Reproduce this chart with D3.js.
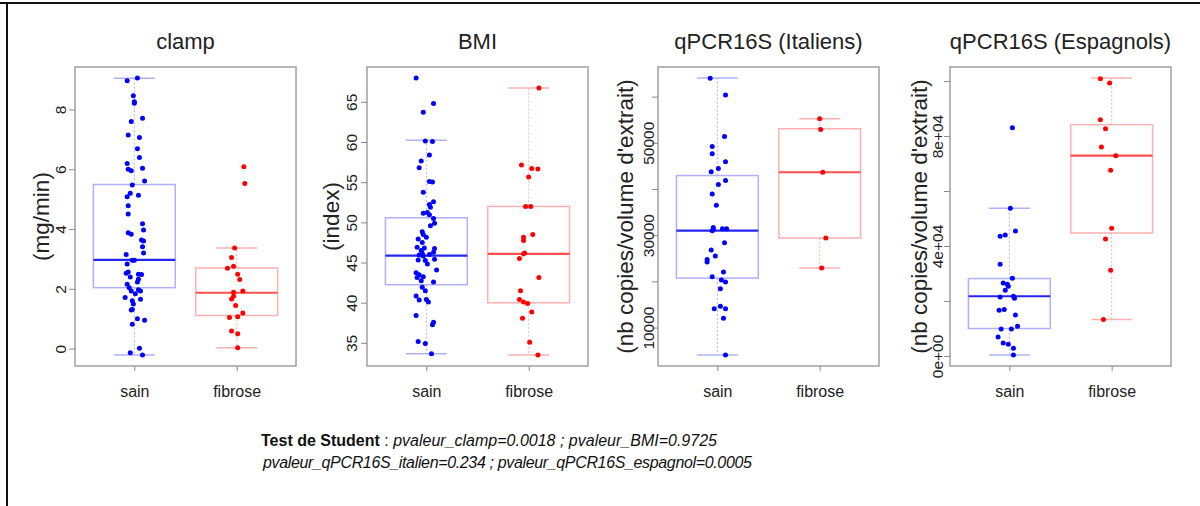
<!DOCTYPE html>
<html>
<head>
<meta charset="utf-8">
<script src="https://cdn.jsdelivr.net/npm/d3@7"></script>
<style>
  html, body { margin: 0; padding: 0; background: #fff; }
  svg { display: block; }
</style>
</head>
<body>
<svg id="chart" width="1200" height="506"></svg>
<script>
// ---------------- DATA ----------------
const groups = ["sain", "fibrose"];
const panelTitles = ["clamp", "BMI", "qPCR16S (Italiens)", "qPCR16S (Espagnols)"];
const yAxisLabels = ["(mg/min)", "(index)", "(nb copies/volume d'extrait)", "(nb copies/volume d'extrait)"];

const clampTicks = [0, 2, 4, 6, 8];
const clampTickLabels = ["0", "2", "4", "6", "8"];
const bmiTicks = [35, 40, 45, 50, 55, 60, 65];
const bmiTickLabels = ["35", "40", "45", "50", "55", "60", "65"];
const italTicks = [10000, 20000, 30000, 40000, 50000, 60000];
const italTickLabels = ["10000", "", "30000", "", "50000", ""];
const espTicks = [0, 20000, 40000, 60000, 80000, 100000];
const espTickLabels = ["0e+00", "", "4e+04", "", "8e+04", ""];

// box statistics: [lower whisker, Q1, median, Q3, upper whisker]
const clampBoxSain = [-0.21, 2.04, 2.97, 5.49, 9.04];
const clampBoxFibrose = [0.03, 1.11, 1.87, 2.70, 3.37];
const bmiBoxSain = [33.66, 42.24, 45.86, 50.57, 60.22];
const bmiBoxFibrose = [33.50, 39.99, 46.07, 51.98, 66.71];
const italBoxSain = [4080, 20720, 31000, 42910, 64010];
const italBoxFibrose = [22880, 29390, 43620, 53040, 55200];
const espBoxSain = [360, 9960, 21710, 28150, 53710];
const espBoxFibrose = [13240, 44730, 72870, 84150, 101100];

// individual points (values) and their horizontal jitter (category units)
const clampSain = [8.96, 9.05, 8.46, 8.26, 8.21, 7.60, 7.71, 7.15, 7.06, 6.69, 6.39, 6.19, 6.00, 5.95, 6.03, 5.61, 5.47, 5.20, 5.08, 5.13, 4.78, 4.50, 4.18, 3.97, 3.88, 3.83, 3.63, 3.60, 3.41, 3.20, 3.15, 2.96, 2.96, 2.83, 2.52, 2.56, 2.49, 2.48, 2.40, 2.32, 2.23, 2.15, 2.04, 1.97, 1.93, 1.93, 1.71, 1.84, 1.60, 1.65, 1.49, 1.29, 1.31, 1.00, 0.95, 0.82, -0.14, 0.01, -0.21];
const clampSainJit = [-0.07, 0.03, -0.01, 0.00, 0.00, -0.03, 0.08, -0.06, 0.05, 0.03, 0.05, -0.07, -0.06, -0.03, 0.08, 0.10, -0.02, -0.04, -0.07, 0.04, -0.06, -0.06, 0.08, 0.09, -0.06, -0.03, 0.07, 0.09, 0.08, 0.09, -0.08, -0.02, 0.00, -0.07, -0.08, -0.06, 0.04, 0.07, -0.04, 0.04, 0.03, -0.07, -0.05, 0.04, 0.06, -0.03, -0.09, 0.01, -0.02, 0.06, -0.01, -0.03, -0.02, 0.03, 0.10, -0.02, -0.04, 0.05, 0.08];
const clampFibrose = [6.08, 5.52, 3.37, 3.05, 2.69, 2.76, 2.49, 2.31, 1.93, 1.89, 1.75, 1.66, 1.44, 1.19, 1.07, 1.04, 0.59, 0.50, 0.03];
const clampFibroseJit = [0.07, 0.08, -0.02, -0.05, -0.09, -0.03, 0.01, 0.03, 0.06, -0.03, -0.03, -0.05, -0.01, 0.06, 0.01, -0.07, -0.05, 0.01, 0.01];

const bmiSain = [67.96, 64.80, 63.71, 60.13, 60.06, 58.38, 57.63, 56.80, 55.10, 55.01, 53.76, 52.56, 52.23, 51.89, 51.14, 51.23, 50.94, 50.48, 49.89, 49.57, 48.82, 48.48, 48.15, 47.48, 47.94, 46.90, 46.49, 46.82, 46.74, 46.28, 45.95, 45.99, 45.82, 46.15, 45.32, 45.40, 45.24, 44.07, 44.82, 43.74, 43.49, 43.15, 43.24, 42.74, 42.58, 41.91, 41.49, 40.83, 40.33, 40.40, 40.08, 38.41, 37.58, 37.25, 35.16, 34.91, 33.66];
const bmiSainJit = [-0.10, 0.07, -0.03, -0.01, 0.06, 0.03, -0.05, -0.07, 0.03, 0.06, -0.03, 0.07, 0.03, 0.04, -0.03, 0.01, 0.03, 0.07, 0.08, 0.04, -0.04, -0.03, 0.00, -0.04, -0.08, -0.09, -0.05, -0.02, 0.08, 0.07, -0.07, 0.03, -0.03, -0.04, -0.08, 0.08, -0.01, 0.10, 0.01, -0.10, -0.07, -0.09, -0.03, -0.05, 0.07, -0.04, -0.01, -0.10, -0.07, 0.00, 0.02, -0.10, 0.07, 0.06, -0.08, -0.01, 0.05];
const bmiFibrose = [66.71, 57.13, 56.72, 56.64, 55.64, 51.98, 51.98, 48.48, 48.15, 47.73, 46.20, 46.07, 45.49, 43.15, 41.49, 40.41, 40.08, 39.91, 38.83, 38.08, 35.09, 33.50];
const bmiFibroseJit = [0.10, -0.07, 0.03, 0.09, 0.00, -0.03, 0.02, 0.04, -0.05, -0.05, -0.04, -0.05, -0.09, 0.10, -0.08, -0.09, -0.05, -0.01, 0.03, -0.06, 0.01, 0.09];

const italSain = [63950, 60330, 51370, 49200, 47610, 45880, 44430, 43710, 41820, 40950, 38940, 36460, 31690, 31260, 30980, 31410, 31410, 28370, 26790, 25480, 24750, 24190, 22020, 21000, 20280, 19850, 18390, 14640, 14060, 14060, 12040, 4080];
const italSainJit = [-0.07, 0.08, 0.07, -0.05, -0.05, 0.08, 0.01, -0.06, 0.08, 0.01, -0.05, -0.01, -0.04, -0.04, -0.05, 0.05, 0.09, 0.07, -0.06, -0.02, -0.10, -0.10, 0.06, -0.05, 0.04, 0.08, 0.03, 0.03, -0.03, 0.08, 0.06, 0.08];
const italFibrose = [55200, 52890, 43620, 29390, 22880];
const italFibroseJit = [0.00, 0.01, 0.03, 0.06, 0.02];

const espSain = [83050, 53710, 45450, 43530, 44000, 33350, 28250, 26550, 26070, 25350, 23890, 21460, 21710, 20980, 16620, 16870, 14910, 9820, 9820, 10800, 6910, 4730, 4250, 2800, 360];
const espSainJit = [0.03, 0.01, 0.06, -0.09, -0.04, -0.09, 0.03, -0.06, -0.02, -0.01, -0.04, -0.09, 0.04, 0.05, -0.10, -0.05, 0.06, -0.08, 0.02, 0.08, -0.11, -0.06, -0.01, 0.04, 0.04];
const espFibrose = [100870, 99270, 85960, 82690, 76000, 72870, 67530, 46440, 42550, 31160, 13240];
const espFibroseJit = [-0.11, -0.02, -0.11, -0.06, -0.10, 0.04, -0.01, 0.00, -0.06, -0.01, -0.08];

// ---------------- PANEL TABLE built from the arrays ----------------
const panels = [
  { title: panelTitles[0], ylab: yAxisLabels[0], ticks: clampTicks, tickLabels: clampTickLabels,
    boxes: [clampBoxSain, clampBoxFibrose], pts: [[clampSain, clampSainJit], [clampFibrose, clampFibroseJit]] },
  { title: panelTitles[1], ylab: yAxisLabels[1], ticks: bmiTicks, tickLabels: bmiTickLabels,
    boxes: [bmiBoxSain, bmiBoxFibrose], pts: [[bmiSain, bmiSainJit], [bmiFibrose, bmiFibroseJit]] },
  { title: panelTitles[2], ylab: yAxisLabels[2], ticks: italTicks, tickLabels: italTickLabels,
    boxes: [italBoxSain, italBoxFibrose], pts: [[italSain, italSainJit], [italFibrose, italFibroseJit]] },
  { title: panelTitles[3], ylab: yAxisLabels[3], ticks: espTicks, tickLabels: espTickLabels,
    boxes: [espBoxSain, espBoxFibrose], pts: [[espSain, espSainJit], [espFibrose, espFibroseJit]] }
];

// ---------------- LAYOUT / STYLE ----------------
const plotLefts = [75, 367, 658, 950];
const plotW = 221, plotTop = 67, plotBottom = 366;
const tickLabelGap = [9, 10, 4, 7];
const yLabGap = [26, 28, 25, 23];
const fontFam = "'Liberation Sans', Arial, sans-serif";
const colors = {
  point: ["#0000ff", "#ff0000"],
  box: ["#b0b0ff", "#ffb0b0"],
  median: ["#2626f0", "#ff5050"]
};

const svg = d3.select("#chart");
svg.append("rect").attr("width", 1200).attr("height", 506).attr("fill", "#fff");
// outer frame (top and left edges)
svg.append("line").attr("x1", 0).attr("x2", 1200).attr("y1", 3).attr("y2", 3)
  .attr("stroke", "#111").attr("stroke-width", 2);
svg.append("line").attr("x1", 7).attr("x2", 7).attr("y1", 3).attr("y2", 506)
  .attr("stroke", "#111").attr("stroke-width", 2);

panels.forEach((p, i) => {
  const left = plotLefts[i];
  const x = d3.scaleLinear().domain([0.42, 2.58]).range([left, left + plotW]);
  const all = p.pts[0][0].concat(p.pts[1][0], p.boxes[0], p.boxes[1]);
  const [lo, hi] = d3.extent(all);
  const pad = (hi - lo) * 0.04;
  const y = d3.scaleLinear().domain([lo - pad, hi + pad]).range([plotBottom, plotTop]);
  const g = svg.append("g");

  // boxes
  p.boxes.forEach((b, k) => {
    const cx = x(k + 1);
    const bx0 = x(k + 1 - 0.4), bx1 = x(k + 1 + 0.4);
    const cx0 = x(k + 1 - 0.2), cx1 = x(k + 1 + 0.2);
    const bg = g.append("g");
    // whiskers (dotted)
    bg.append("line").attr("x1", cx).attr("x2", cx).attr("y1", y(b[3])).attr("y2", y(b[4]))
      .attr("stroke", colors.box[k]).attr("stroke-width", 1).attr("stroke-dasharray", "2,2");
    bg.append("line").attr("x1", cx).attr("x2", cx).attr("y1", y(b[1])).attr("y2", y(b[0]))
      .attr("stroke", colors.box[k]).attr("stroke-width", 1).attr("stroke-dasharray", "2,2");
    // caps
    [b[0], b[4]].forEach(v => {
      bg.append("line").attr("x1", cx0).attr("x2", cx1).attr("y1", y(v)).attr("y2", y(v))
        .attr("stroke", colors.box[k]).attr("stroke-width", 1.5);
    });
    // box
    bg.append("rect").attr("x", bx0).attr("y", y(b[3])).attr("width", bx1 - bx0)
      .attr("height", y(b[1]) - y(b[3])).attr("fill", "none")
      .attr("stroke", colors.box[k]).attr("stroke-width", 1.5);
    // median
    bg.append("line").attr("x1", bx0).attr("x2", bx1).attr("y1", y(b[2])).attr("y2", y(b[2]))
      .attr("stroke", colors.median[k]).attr("stroke-width", 2.2);
  });

  // points
  p.pts.forEach((pair, k) => {
    const vals = pair[0], jit = pair[1];
    g.append("g").selectAll("circle").data(vals).join("circle")
      .attr("cx", (d, j) => x(k + 1 + jit[j]))
      .attr("cy", d => y(d))
      .attr("r", 2.5)
      .attr("fill", colors.point[k]);
  });

  // frame of plot region
  g.append("rect").attr("x", left).attr("y", plotTop).attr("width", plotW)
    .attr("height", plotBottom - plotTop).attr("fill", "none")
    .attr("stroke", "#a0a0a0").attr("stroke-width", 1.5);

  // y axis
  const yAxis = d3.axisLeft(y).tickValues(p.ticks).tickSize(6).tickSizeOuter(0)
    .tickFormat((d, j) => p.tickLabels[j]);
  const ya = g.append("g").attr("transform", `translate(${left},0)`).call(yAxis);
  ya.select(".domain").remove();
  ya.selectAll(".tick line").attr("stroke", "#8a8a8a");
  ya.selectAll(".tick text")
    .attr("transform", "rotate(-90)")
    .attr("x", 0).attr("y", -tickLabelGap[i]).attr("dy", 0)
    .attr("text-anchor", "middle")
    .attr("font-family", fontFam).attr("font-size", 15.5).attr("fill", "#222");

  // x axis
  const xAxis = d3.axisBottom(x).tickValues([1, 2]).tickSize(5).tickSizeOuter(0)
    .tickFormat((d, j) => groups[j]);
  const xa = g.append("g").attr("transform", `translate(0,${plotBottom})`).call(xAxis);
  xa.select(".domain").remove();
  xa.selectAll(".tick line").attr("stroke", "#8a8a8a");
  xa.selectAll(".tick text").attr("y", 31).attr("dy", 0)
    .attr("font-family", fontFam).attr("font-size", 16).attr("fill", "#222");

  // title
  g.append("text").attr("x", left + plotW / 2).attr("y", 49)
    .attr("text-anchor", "middle").attr("font-family", fontFam).attr("font-size", 22)
    .attr("fill", "#222").text(p.title);

  // y label
  const cy = (plotTop + plotBottom) / 2;
  g.append("text").attr("transform", `translate(${left - yLabGap[i]},${cy}) rotate(-90)`)
    .attr("text-anchor", "middle").attr("font-family", fontFam).attr("font-size", 22.5)
    .attr("fill", "#222").text(p.ylab);
});

// bottom caption
const line1 = svg.append("text").attr("x", 261).attr("y", 446)
  .attr("font-family", fontFam).attr("font-size", 16).attr("fill", "#111");
line1.append("tspan").attr("font-weight", "bold").text("Test de Student");
line1.append("tspan").text(" : ");
line1.append("tspan").attr("font-style", "italic").text("pvaleur_clamp=0.0018 ; pvaleur_BMI=0.9725");
svg.append("text").attr("x", 263).attr("y", 468)
  .attr("font-family", fontFam).attr("font-size", 16).attr("font-style", "italic").attr("fill", "#111")
  .attr("letter-spacing", -0.35)
  .text("pvaleur_qPCR16S_italien=0.234 ; pvaleur_qPCR16S_espagnol=0.0005");
</script>
</body>
</html>
